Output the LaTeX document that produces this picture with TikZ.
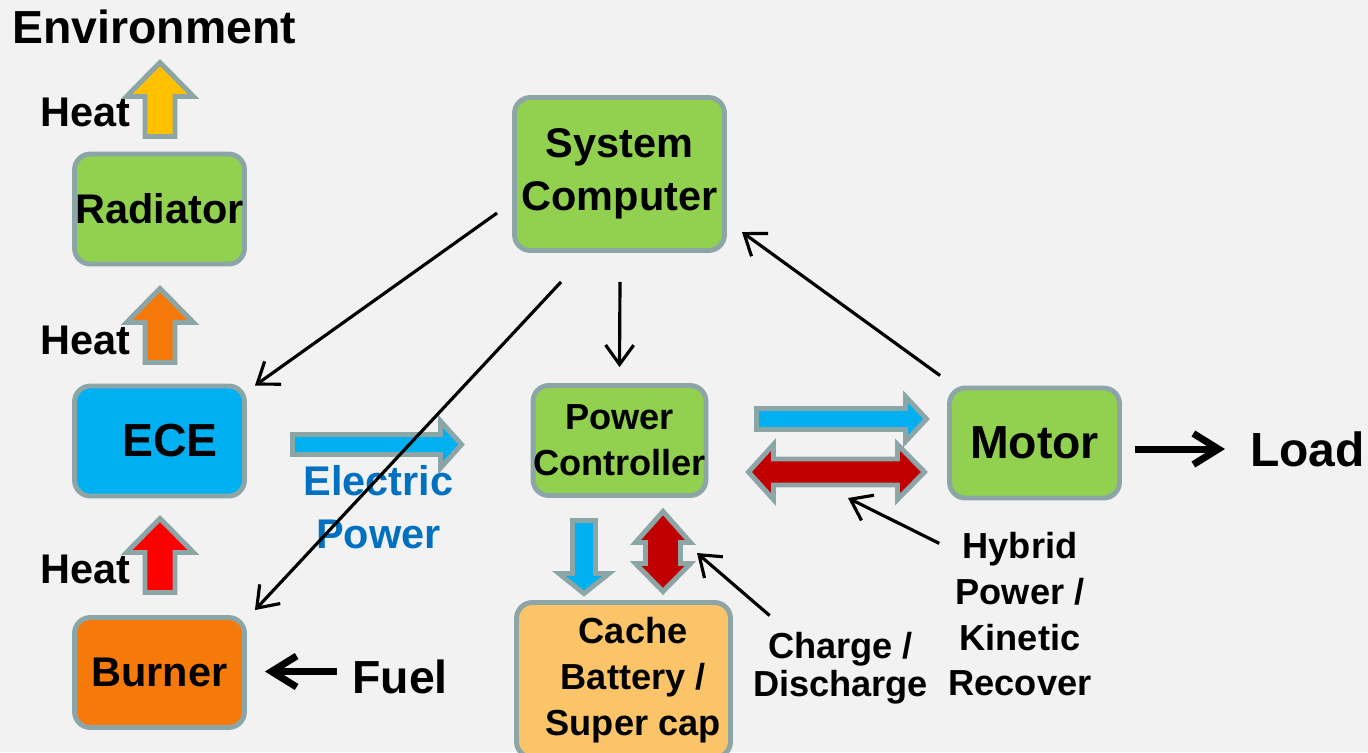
\documentclass[tikz,border=0pt]{standalone}
\usepackage{fontspec}
\setmainfont{Liberation Sans}
\usetikzlibrary{arrows.meta,calc}

\definecolor{bggray}{HTML}{F2F2F2}
\definecolor{edgegray}{HTML}{8CA6A8}
\definecolor{boxgreen}{HTML}{92D050}
\definecolor{boxblue}{HTML}{00B0F0}
\definecolor{boxorange}{HTML}{F57A0A}
\definecolor{boxcache}{HTML}{FCC468}
\definecolor{heatyellow}{HTML}{FFC000}
\definecolor{heatred}{HTML}{FF0000}
\definecolor{darkred}{HTML}{C00000}
\definecolor{powerblue}{HTML}{0070C0}

\begin{document}
\begin{tikzpicture}[x=0.02cm, y=-0.02cm,
    block/.style={draw=edgegray, line width=2.8pt, rounded corners=9pt, align=center,
                  inner sep=0pt, minimum width=3.4cm, minimum height=2.2cm},
    bigtxt/.style={font=\fontsize{23.6}{30}\selectfont\bfseries},
    smalltxt/.style={font=\fontsize{20.6}{26}\selectfont\bfseries},
    hugetxt/.style={font=\fontsize{26.4}{30}\selectfont\bfseries},
    fat/.style={draw=edgegray, line width=2.8pt},
    link/.style={line width=1.8pt, -{Straight Barb[length=11pt,width=16pt]}},
    feed/.style={line width=4pt, -{Straight Barb[length=0.5cm,width=0.62cm]}},
    lbl/.style={inner sep=0pt, align=center}
]
\fill[bggray] (0,0) rectangle (1368,752);
\useasboundingbox (0,0) rectangle (1368,752);

% blocks
\node[block, bigtxt, fill=boxgreen]  (rad)    at (159.5,209)   {Radiator};
\node[block, hugetxt, fill=boxblue]  (ece)    at (159.5,441)   {\hspace*{12pt}ECE};
\node[block, bigtxt, fill=boxorange] (burner) at (159.5,672.5) {Burner};
\node[block, bigtxt, fill=boxgreen, minimum width=4.2cm, minimum height=3.06cm]
     (sys) at (619.5,174) {System\\Computer};
\node[block, smalltxt, fill=boxgreen] (pc)    at (619.5,440.5) {Power\\Controller};
\node[block, hugetxt, fill=boxgreen]  (motor) at (1034.5,443)  {Motor};
\node[block, smalltxt, fill=boxcache, minimum width=4.28cm, minimum height=3.1cm]
     (cache) at (623.5,680) {\hspace*{11pt}Cache\\\hspace*{11pt}Battery /\\\hspace*{11pt}Super cap};

% labels
\node[lbl, hugetxt, anchor=west] (env)   at (12,26.5)    {Environment};
\node[lbl, bigtxt, anchor=east]  (heatA) at (131,112)    {Heat};
\node[lbl, bigtxt, anchor=east]  (heatB) at (131,340)    {Heat};
\node[lbl, bigtxt, anchor=east]  (heatC) at (131,569.5)  {Heat};
\node[lbl, hugetxt, anchor=west] (fuel)  at (352,676.5)  {Fuel};
\node[lbl, font=\fontsize{27.3}{30}\selectfont\bfseries, anchor=west] (load) at (1250,449.5) {Load};
\node[lbl, bigtxt, text=powerblue] (elec) at (378.5,507.5) {Electric\\Power};
\node[lbl, font=\fontsize{20.6}{21.8}\selectfont\bfseries] (chg) at (840.5,668) {Charge /\\Discharge};
\node[lbl, smalltxt] (hyb) at (1020,614.5) {Hybrid\\Power /\\Kinetic\\Recover};

% heat flow
\draw[fat, fill=heatyellow] (145,136.5) -- (145,96.5) -- (126.5,96.5) -- (160,62.5)
     -- (193.5,96.5) -- (175,96.5) -- (175,136.5) -- cycle;
\draw[fat, fill=boxorange] (145,362.5) -- (145,322.5) -- (126.5,322.5) -- (160,288.5)
     -- (193.5,322.5) -- (175,322.5) -- (175,362.5) -- cycle;
\draw[fat, fill=heatred] (145,592.5) -- (145,552.5) -- (126.5,552.5) -- (160,518.5)
     -- (193.5,552.5) -- (175,552.5) -- (175,592.5) -- cycle;

% power flow
\draw[fat, fill=boxblue] (292.5,434.5) -- (440.5,434.5) -- (440.5,421) -- (461.5,444.5)
     -- (440.5,468) -- (440.5,454.5) -- (292.5,454.5) -- cycle;
\draw[fat, fill=boxblue] (756.5,408.5) -- (905.5,408.5) -- (905.5,396.5) -- (926.5,419)
     -- (905.5,441.5) -- (905.5,429.5) -- (756.5,429.5) -- cycle;
\draw[fat, fill=darkred] (748.5,472) -- (773.5,444.5) -- (773.5,459) -- (897.5,459)
     -- (897.5,444.5) -- (924.5,472) -- (897.5,499.5) -- (897.5,485) -- (773.5,485)
     -- (773.5,499.5) -- cycle;
\draw[fat, fill=boxblue] (572.5,520.5) -- (595.5,520.5) -- (595.5,573.5) -- (609,573.5)
     -- (584,593.5) -- (559,573.5) -- (572.5,573.5) -- cycle;
\draw[fat, fill=darkred] (663,511.5) -- (690.5,542.5) -- (680.5,542.5) -- (680.5,563.5)
     -- (690.5,563.5) -- (663,591.5) -- (635.5,563.5) -- (645.5,563.5) -- (645.5,542.5)
     -- (635.5,542.5) -- cycle;
\coordinate (cdpt) at (697,553);
\coordinate (hkpt) at (848,498);

% control links
\draw[link] ($(sys.west)+(-15,39)$) -- ($(ece.north east)+(8,2)$);
\draw[link] ($(sys.south)+(-58.5,29)$) -- ($(burner.north east)+(8,-5)$);
\draw[link] ($(sys.south)+(0.5,29)$) -- ($(pc.north)+(0,-16)$);
\draw[link] ($(motor.north west)+(-7,-10)$) -- ($(sys.east)+(15,58)$);
\draw[link] ($(chg.north west)+(17,-16)$) -- (cdpt);
\draw[link] ($(hyb.north west)+(-9,11)$) -- (hkpt);

\draw[feed] ($(fuel.west)+(-15,-5)$) -- ($(burner.east)+(18,-1)$);
\draw[feed] ($(motor.east)+(13,6)$) -- ($(load.west)+(-25,-0.5)$);

\end{tikzpicture}
\end{document}
